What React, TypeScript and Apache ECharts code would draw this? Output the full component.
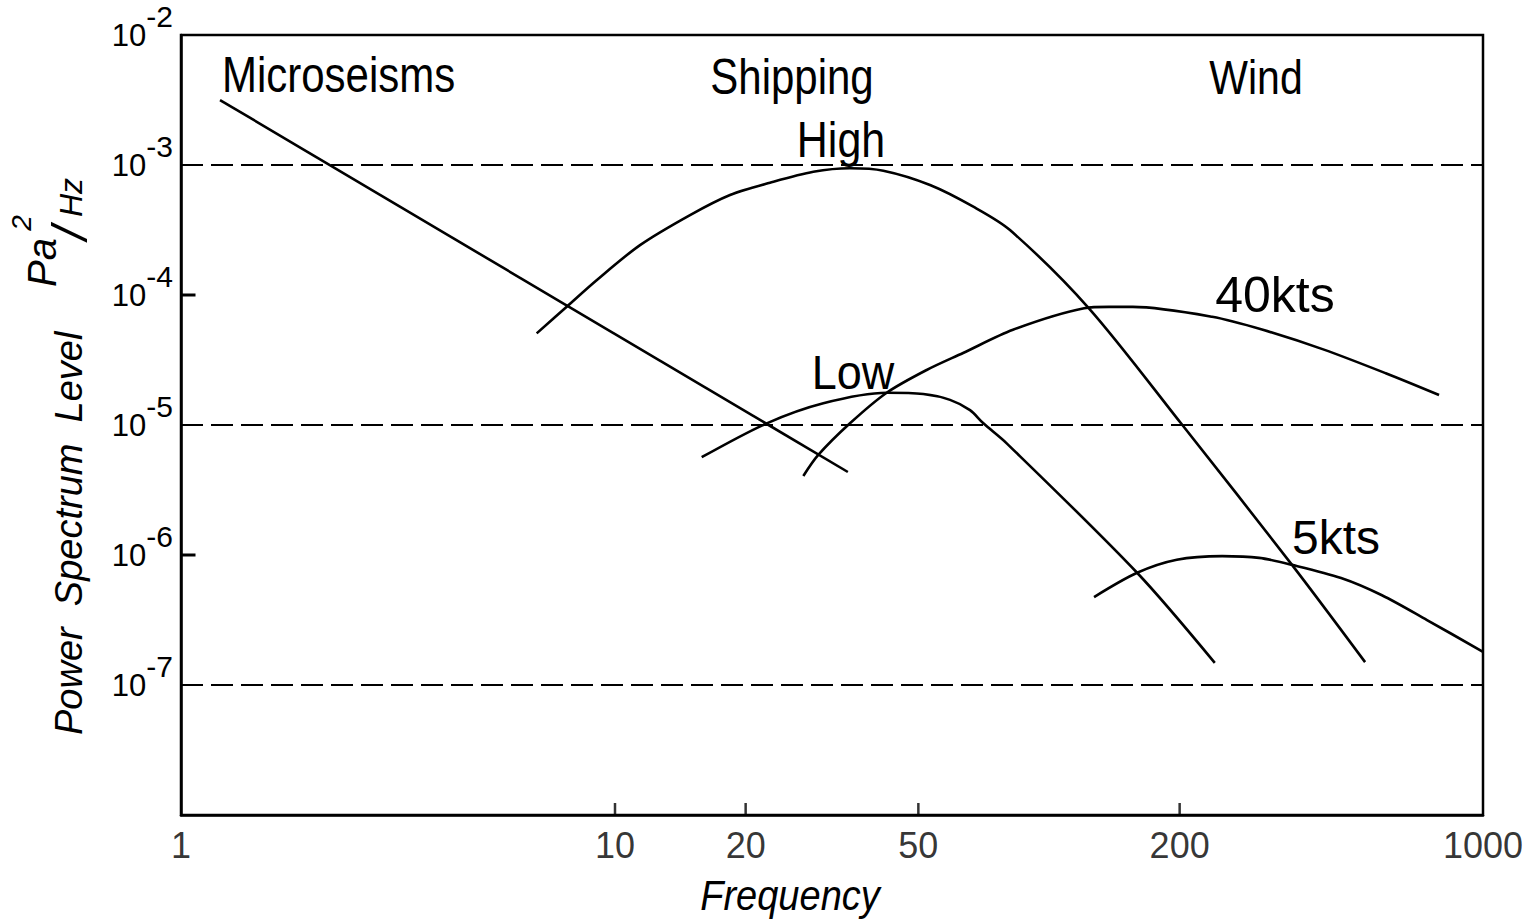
import React, { useEffect, useRef } from "react";
import * as echarts from "echarts";

// Frequency axis: tick marks and the printed frequency labels (Hz)
const freqTickValues = [10, 20, 50, 200];
const freqLabelValues = [1, 10, 20, 50, 200, 1000];
// Power axis: decades that carry a printed label, inner tick marks, dashed reference levels
const levelExponents = [-2, -3, -4, -5, -6, -7];
const levelTickValues = [1e-4, 1e-6];
const dashedLevels = [1e-3, 1e-5, 1e-7];

// Spectrum curves: [frequency Hz, level Pa^2/Hz]
const microseisms: [number, number][] = [
  [1.23, 3.16e-3],
  [34.4, 4.35e-6],
];
const shippingHigh: [number, number][] = [
  [6.6, 5.07e-5],
  [7.74, 8.13e-5],
  [9.07, 1.3e-4],
  [11.42, 2.42e-4],
  [14.89, 4.12e-4],
  [18.41, 5.88e-4],
  [22.76, 7.31e-4],
  [28.64, 8.87e-4],
  [34.79, 9.44e-4],
  [41.52, 9.04e-4],
  [53.19, 7.02e-4],
  [66.93, 4.78e-4],
  [81.3, 3.16e-4],
  [123.6, 7.9e-5],
  [201, 1.04e-5],
  [363, 8.4e-7],
  [535, 1.5e-7],
];
const shippingLow: [number, number][] = [
  [15.84, 5.65e-6],
  [22.37, 1.03e-5],
  [30.2, 1.47e-5],
  [42.27, 1.77e-5],
  [51.33, 1.73e-5],
  [59.15, 1.56e-5],
  [65.77, 1.3e-5],
  [70.6, 1.03e-5],
  [79.9, 7.23e-6],
  [159.6, 7.3e-7],
  [241, 1.48e-7],
];
const wind40kts: [number, number][] = [
  [27.16, 4.05e-6],
  [29.4, 5.88e-6],
  [34.79, 1.03e-5],
  [42.27, 1.77e-5],
  [52.26, 2.65e-5],
  [63.4, 3.58e-5],
  [82.6, 5.4e-5],
  [120.5, 7.9e-5],
  [137.5, 8.1e-5],
  [156, 8.1e-5],
  [237.6, 6.8e-5],
  [311, 5.4e-5],
  [430, 3.8e-5],
  [597, 2.5e-5],
  [792, 1.7e-5],
];
const wind5kts: [number, number][] = [
  [127, 4.75e-7],
  [159.6, 7.3e-7],
  [197, 9.2e-7],
  [250.6, 9.8e-7],
  [305, 9.5e-7],
  [363, 8.4e-7],
  [471, 6.65e-7],
  [585, 4.9e-7],
  [743, 3.16e-7],
  [1000, 1.8e-7],
];

const FREQ_MIN = 1;
const FREQ_MAX = 1000;
const LEVEL_MIN = 1e-8;
const LEVEL_MAX = 1e-2;
// Inner tick marks on the level axis run from 1 Hz out to this frequency
const LEVEL_TICK_END = 1.08;

const SANS = '"Liberation Sans", Arial, Helvetica, sans-serif';
const INK = "#000";

function curve(name: string, data: [number, number][], smooth: number | boolean) {
  return {
    name,
    type: "line",
    data,
    smooth,
    symbol: "none",
    showSymbol: false,
    silent: true,
    lineStyle: { color: INK, width: 2.6 },
  };
}

// Horizontal dashed reference level spanning the whole frequency range
function levelLine(level: number) {
  return {
    name: `level ${level}`,
    type: "line",
    data: [
      [FREQ_MIN, level],
      [FREQ_MAX, level],
    ],
    symbol: "none",
    showSymbol: false,
    silent: true,
    z: 1,
    lineStyle: { color: INK, width: 2, type: [22, 8] },
  };
}

// Short inward tick on the level axis
function levelTick(level: number) {
  return {
    name: `tick ${level}`,
    type: "line",
    data: [
      [FREQ_MIN, level],
      [LEVEL_TICK_END, level],
    ],
    symbol: "none",
    showSymbol: false,
    silent: true,
    z: 4,
    lineStyle: { color: INK, width: 3 },
  };
}

function label(
  text: string,
  x: number,
  y: number,
  size: number,
  stretch: number,
  align = "center"
) {
  return {
    type: "text",
    x,
    y,
    scaleY: stretch,
    silent: true,
    style: {
      text,
      fill: INK,
      fontFamily: SANS,
      fontSize: size,
      align,
      verticalAlign: "middle",
    },
  };
}

function rotated(text: string, x: number, y: number, size: number, align = "left") {
  return {
    type: "text",
    x,
    y,
    rotation: Math.PI / 2,
    silent: true,
    style: {
      text,
      fill: INK,
      fontFamily: SANS,
      fontStyle: "italic",
      fontSize: size,
      align,
      verticalAlign: "middle",
    },
  };
}

function buildOption() {
  return {
    animation: false,
    backgroundColor: "#fff",
    grid: {
      left: 181,
      right: 53,
      top: 35,
      bottom: 106,
      show: true,
      borderColor: INK,
      borderWidth: 2.5,
    },
    xAxis: {
      type: "log",
      logBase: 10,
      min: FREQ_MIN,
      max: FREQ_MAX,
      axisLine: { show: true, lineStyle: { color: INK, width: 2.5 } },
      axisTick: { show: false },
      axisLabel: { show: false },
      splitLine: { show: false },
      minorTick: { show: false },
    },
    yAxis: {
      type: "log",
      logBase: 10,
      min: LEVEL_MIN,
      max: LEVEL_MAX,
      axisLine: { show: true, lineStyle: { color: INK, width: 2.5 } },
      axisTick: { show: false },
      splitLine: { show: false },
      axisLabel: {
        margin: 8,
        formatter: (v: number) => {
          const e = Math.round(Math.log10(v));
          if (!levelExponents.includes(e)) return "";
          return `{b|10}{s|${e}}`;
        },
        rich: {
          b: { fontSize: 31, fontFamily: SANS, color: INK, verticalAlign: "middle" },
          s: {
            fontSize: 30,
            fontFamily: SANS,
            color: INK,
            verticalAlign: "middle",
            padding: [0, 0, 38, 0],
          },
        },
      },
    },
    series: [
      ...dashedLevels.map(levelLine),
      ...levelTickValues.map(levelTick),
      curve("Microseisms", microseisms, false),
      curve("Shipping High", shippingHigh, 0.3),
      curve("Shipping Low", shippingLow, 0.3),
      curve("Wind 40kts", wind40kts, 0.3),
      curve("Wind 5kts", wind5kts, 0.3),
      {
        name: "Frequency ticks",
        type: "scatter",
        silent: true,
        clip: false,
        symbol: "rect",
        symbolSize: [2.5, 12],
        symbolOffset: [0, -6],
        itemStyle: { color: INK },
        data: freqTickValues.map((f) => [f, LEVEL_MIN]),
        z: 5,
      },
      {
        name: "Frequency labels",
        type: "scatter",
        silent: true,
        clip: false,
        symbolSize: 0,
        itemStyle: { color: "rgba(0,0,0,0)" },
        label: {
          show: true,
          position: "bottom",
          distance: 12,
          color: INK,
          fontFamily: SANS,
          fontSize: 36,
          formatter: (p: any) => String(p.value[0]),
        },
        data: freqLabelValues.map((f) => [f, LEVEL_MIN]),
      },
    ],
    graphic: [
      label("Microseisms", 222, 75, 42, 1.17, "left"),
      label("Shipping", 792, 77, 42, 1.17),
      label("Wind", 1256, 77, 41, 1.17),
      label("High", 841, 140, 43, 1.15),
      label("Low", 853, 372, 45, 1.08),
      label("40kts", 1275, 295, 50, 1.0),
      label("5kts", 1336, 537, 48, 1.0),
      {
        type: "text",
        x: 790,
        y: 895,
        scaleY: 1.1,
        silent: true,
        style: {
          text: "Frequency",
          fill: INK,
          fontFamily: SANS,
          fontStyle: "italic",
          fontSize: 38,
          align: "center",
          verticalAlign: "middle",
        },
      },
      rotated("Power  Spectrum  Level", 69, 735, 38),
      rotated("Pa", 42, 287, 40),
      rotated("2", 21, 223, 28, "center"),
      rotated("/", 70, 233, 50, "center"),
      rotated("Hz", 71, 217, 32),
    ],
  };
}

export default function App() {
  const ref = useRef<HTMLDivElement>(null);
  useEffect(() => {
    if (!ref.current) return;
    const chart = echarts.init(ref.current, null, { renderer: "svg" });
    chart.setOption(buildOption() as any);
    return () => chart.dispose();
  }, []);
  return (
    <div
      ref={ref}
      style={{ position: "fixed", left: 0, top: 0, width: 1536, height: 921, background: "#fff" }}
    />
  );
}
